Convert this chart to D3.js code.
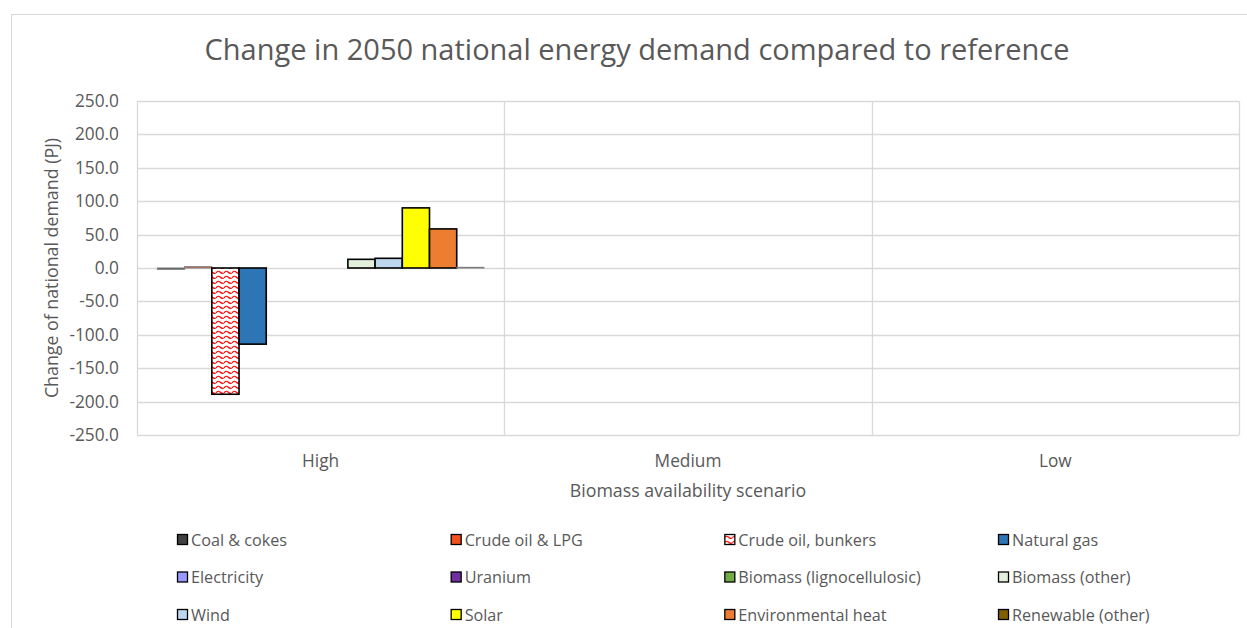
<!DOCTYPE html>
<html>
<head>
<meta charset="utf-8">
<script src="https://cdn.jsdelivr.net/npm/d3@7"></script>
<style>
  html, body { margin: 0; padding: 0; background: #ffffff; }
  svg { display: block; font-family: "Open Sans", "Noto Sans", sans-serif; }
</style>
</head>
<body>
<svg id="chart" width="1247" height="628"></svg>
<script>
// Scenarios on the category axis
const scenarios = ["High", "Medium", "Low"];

// Energy carriers (one series each)
const carriers = [
  "Coal & cokes", "Crude oil & LPG", "Crude oil, bunkers", "Natural gas",
  "Electricity", "Uranium", "Biomass (lignocellulosic)", "Biomass (other)",
  "Wind", "Solar", "Environmental heat", "Renewable (other)"
];

// Change in 2050 demand vs reference, PJ (per scenario: High, Medium, Low)
const coalCokes       = [-2,   null, null];
const crudeOilLpg     = [2,    null, null];
const crudeOilBunkers = [-189, null, null];
const naturalGas      = [-114, null, null];
const electricity     = [0,    null, null];
const uranium         = [0,    null, null];
const biomassLigno    = [0,    null, null];
const biomassOther    = [13,   null, null];
const wind            = [14.5, null, null];
const solar           = [90,   null, null];
const environmentalHeat = [58.5, null, null];
const renewableOther  = [1,    null, null];

const seriesValues = [
  coalCokes, crudeOilLpg, crudeOilBunkers, naturalGas, electricity, uranium,
  biomassLigno, biomassOther, wind, solar, environmentalHeat, renewableOther
];

const yTicks = [250, 200, 150, 100, 50, 0, -50, -100, -150, -200, -250];

const fills = [
  "#404040", "#F4511E", "url(#waves)", "#2E75B6", "#9999FF", "#7030A0",
  "#70AD47", "#E2EFDA", "#BDD7EE", "#FFFF00", "#ED7D31", "#7F6000"
];

const svg = d3.select("#chart");
const textColor = "#595959";
const gridColor = "#d9d9d9";

// Red wavy hatch used for the bunkers series
const defs = svg.append("defs");
const pat = defs.append("pattern")
  .attr("id", "waves")
  .attr("patternUnits", "userSpaceOnUse")
  .attr("width", 8).attr("height", 5);
pat.append("rect").attr("width", 8).attr("height", 5).attr("fill", "#ffffff");
pat.append("path")
  .attr("d", "M0,3 Q2,0 4,2 T8,3")
  .attr("fill", "none").attr("stroke", "#ff0000").attr("stroke-width", 1.1);

// Outer chart frame
svg.append("rect")
  .attr("x", 11.5).attr("y", 14.5)
  .attr("width", 1260).attr("height", 640)
  .attr("fill", "none").attr("stroke", gridColor).attr("stroke-width", 1);

// Plot area
const plot = { left: 137, right: 1239, top: 101, bottom: 435 };

const x = d3.scaleBand()
  .domain(scenarios)
  .range([plot.left, plot.right]);

const inner = d3.scaleBand()
  .domain(carriers)
  .range([0, x.bandwidth()])
  .paddingOuter(0.75);

const y = d3.scaleLinear()
  .domain([-250, 250])
  .range([plot.bottom, plot.top]);

// Horizontal gridlines
svg.append("g")
  .selectAll("line")
  .data(yTicks)
  .join("line")
  .attr("x1", plot.left).attr("x2", plot.right)
  .attr("y1", d => Math.round(y(d)) + 0.5).attr("y2", d => Math.round(y(d)) + 0.5)
  .attr("stroke", gridColor).attr("stroke-width", 1.3);

// Vertical category separators and plot borders
const vlines = [plot.left].concat(scenarios.map(s => x(s) + x.bandwidth()));
svg.append("g")
  .selectAll("line")
  .data(vlines)
  .join("line")
  .attr("x1", d => Math.round(d) + 0.5).attr("x2", d => Math.round(d) + 0.5)
  .attr("y1", plot.top).attr("y2", plot.bottom)
  .attr("stroke", gridColor).attr("stroke-width", 1.3);

// Y axis tick labels (plain hyphen for negatives)
const fmt = d3.format(".1f");
const yAxis = d3.axisLeft(y)
  .tickValues(yTicks)
  .tickFormat(d => fmt(d).replace("\u2212", "-"))
  .tickSize(0)
  .tickPadding(0);
const gy = svg.append("g")
  .attr("transform", `translate(${plot.left - 18},0)`)
  .call(yAxis);
gy.select(".domain").remove();
gy.selectAll("text")
  .attr("fill", textColor)
  .style("font-size", "17.3px")
  .style("font-family", "'Open Sans', sans-serif");

// X axis category labels
const xAxis = d3.axisBottom(x).tickSize(0).tickPadding(0);
const gx = svg.append("g")
  .attr("transform", `translate(0,${plot.bottom + 20})`)
  .call(xAxis);
gx.select(".domain").remove();
gx.selectAll("text")
  .attr("fill", textColor)
  .style("font-size", "17.3px")
  .style("font-family", "'Open Sans', sans-serif");

// Bars
const barData = [];
scenarios.forEach((s, si) => {
  carriers.forEach((c, ci) => {
    const v = seriesValues[ci][si];
    if (v !== null) barData.push({ scenario: s, carrier: c, value: v, idx: ci });
  });
});

svg.append("g")
  .selectAll("rect")
  .data(barData)
  .join("rect")
  .attr("x", d => x(d.scenario) + inner(d.carrier))
  .attr("width", inner.bandwidth())
  .attr("y", d => y(Math.max(0, d.value)))
  .attr("height", d => Math.abs(y(d.value) - y(0)))
  .attr("fill", d => fills[d.idx])
  .attr("stroke", d => Math.abs(d.value) < 3 ? "#7f7f7f" : "#000000")
  .attr("stroke-width", d => Math.abs(d.value) < 3 ? 1 : 1.6);

// Title
svg.append("text")
  .attr("x", 637).attr("y", 60)
  .attr("text-anchor", "middle")
  .attr("fill", textColor)
  .style("font-size", "29px")
  .text("Change in 2050 national energy demand compared to reference");

// Axis titles
svg.append("text")
  .attr("x", 688).attr("y", 497)
  .attr("text-anchor", "middle")
  .attr("fill", textColor)
  .style("font-size", "17.8px")
  .text("Biomass availability scenario");

svg.append("text")
  .attr("transform", `translate(58,${(plot.top + plot.bottom) / 2}) rotate(-90)`)
  .attr("text-anchor", "middle")
  .attr("fill", textColor)
  .style("font-size", "17.8px")
  .text("Change of national demand (PJ)");

// Legend: 4 columns x 3 rows
const legend = svg.append("g");
const colX = d3.scalePoint().domain([0, 1, 2, 3]).range([177, 998]);
const rowY = d3.scalePoint().domain([0, 1, 2]).range([540, 615]);
const items = legend.selectAll("g")
  .data(carriers)
  .join("g")
  .attr("transform", (d, i) => `translate(${colX(i % 4)},${rowY(Math.floor(i / 4))})`);
items.append("rect")
  .attr("x", 0.5).attr("y", -5.5)
  .attr("width", 10).attr("height", 10)
  .attr("fill", (d, i) => fills[i])
  .attr("stroke", "#000000").attr("stroke-width", 1.3);
items.append("text")
  .attr("x", 14).attr("y", 0)
  .attr("dy", "0.35em")
  .attr("fill", textColor)
  .style("font-size", "16.2px")
  .text(d => d);
</script>
</body>
</html>
